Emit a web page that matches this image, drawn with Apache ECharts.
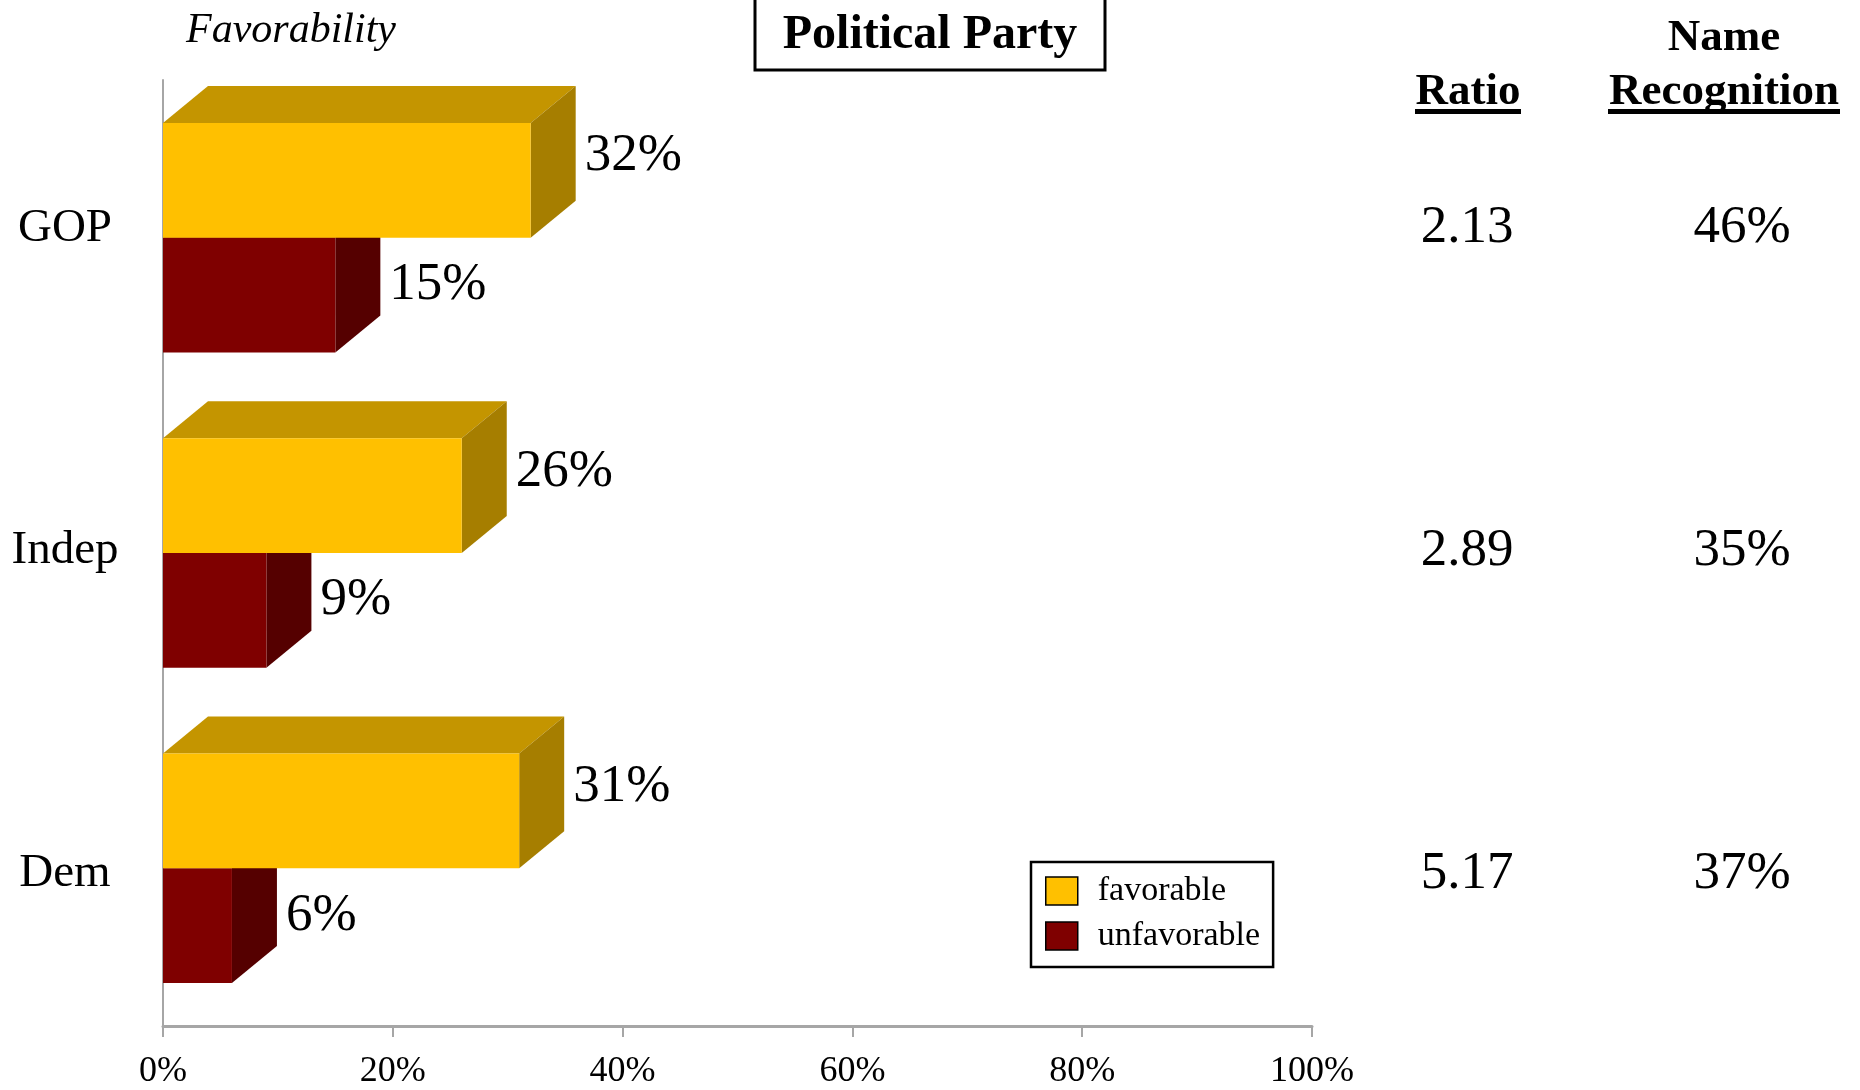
<!DOCTYPE html>
<html><head><meta charset="utf-8">
<script src="https://cdn.jsdelivr.net/npm/echarts@6/dist/echarts.min.js"></script>
<style>html,body{margin:0;padding:0;background:#fff}#c{width:1860px;height:1090px}</style>
</head><body><div id="c"></div>
<script>
// ---- data ----
const categories = ['GOP', 'Indep', 'Dem'];
const favorable = [32, 26, 31];
const unfavorable = [15, 9, 6];
const ratios = [2.13, 2.89, 5.17];
const nameRecognition = [46, 35, 37];
const seriesNames = ['favorable', 'unfavorable'];

// ---- styles ----
const FONT = 'Liberation Serif, Times New Roman, serif';
const STY = {
  fav:   { front: '#FFC000', top: '#C49500', side: '#A67E00', labelDy: -24 },
  unfav: { front: '#7F0000', top: '#5E0000', side: '#550000', labelDy: -10 }
};
const DX = 45, DY = 37;

function bar3D(kind) {
  const col = STY[kind];
  return function (params, api) {
    const v = api.value(0), c = api.value(1);
    const base = api.coord([0, c]);
    const end = api.coord([v, c]);
    const band = api.size([0, 1])[1];
    const h = band * 0.364;
    const y0 = kind === 'fav' ? base[1] - h : base[1];
    const y1 = y0 + h;
    const x0 = base[0], x1 = end[0];
    return {
      type: 'group',
      children: [
        { type: 'polygon', shape: { points: [[x0, y0], [x0 + DX, y0 - DY], [x1 + DX, y0 - DY], [x1, y0]] }, style: { fill: col.top } },
        { type: 'polygon', shape: { points: [[x1, y0], [x1 + DX, y0 - DY], [x1 + DX, y1 - DY], [x1, y1]] }, style: { fill: col.side } },
        { type: 'rect', shape: { x: x0, y: y0, width: x1 - x0, height: h }, style: { fill: col.front } },
        { type: 'text', style: { x: x1 + DX + 9, y: (y0 + y1) / 2 + col.labelDy, text: v + '%', fontSize: 53, fontFamily: FONT, fill: '#000', align: 'left', verticalAlign: 'middle' } }
      ]
    };
  };
}

const tableTexts = [];
const tableData = [];
categories.forEach((c, i) => {
  tableData.push([0, i]); tableTexts.push(ratios[i].toFixed(2));
  tableData.push([1, i]); tableTexts.push(nameRecognition[i] + '%');
});

const chart = echarts.init(document.getElementById('c'), null, { renderer: 'canvas' });
chart.setOption({
  backgroundColor: '#fff',
  animation: false,
  textStyle: { fontFamily: FONT, color: '#000' },
  grid: [
    { left: 163, right: 548, top: 80, bottom: 60 },
    { left: 163, width: 10, top: 67, bottom: 55 },
    { left: 1467, width: 275, top: 67, bottom: 55 }
  ],
  xAxis: [
    {
      gridIndex: 0, type: 'value', min: 0, max: 100, interval: 20,
      axisLine: { show: true, lineStyle: { color: '#A6A6A6', width: 3 } },
      axisTick: { show: true, length: 11, lineStyle: { color: '#A6A6A6', width: 2 } },
      splitLine: { show: false },
      axisLabel: { formatter: '{value}%', fontSize: 36, fontFamily: FONT, color: '#000', margin: 28 }
    },
    { gridIndex: 1, type: 'value', min: 0, max: 1, show: false },
    { gridIndex: 2, type: 'value', min: 0, max: 1, show: false }
  ],
  yAxis: [
    {
      gridIndex: 0, type: 'category', data: categories, inverse: true,
      axisLine: { show: true, lineStyle: { color: '#A6A6A6', width: 2 } },
      axisTick: { show: false }, axisLabel: { show: false }, splitLine: { show: false }
    },
    {
      gridIndex: 1, type: 'category', data: categories, inverse: true,
      axisLine: { show: false }, axisTick: { show: false }, splitLine: { show: false },
      axisLabel: { show: true, align: 'center', margin: 98, fontSize: 47, fontFamily: FONT, color: '#000' }
    },
    { gridIndex: 2, type: 'category', data: categories, inverse: true, show: false }
  ],
  legend: {
    data: seriesNames,
    orient: 'vertical',
    left: 1031, top: 862,
    padding: [12, 13, 14, 14],
    itemWidth: 32, itemHeight: 28, itemGap: 11,
    icon: 'rect',
    selectedMode: false,
    borderColor: '#000', borderWidth: 2.5,
    backgroundColor: '#fff',
    itemStyle: { borderColor: '#000', borderWidth: 1.5 },
    textStyle: { fontSize: 34, fontFamily: FONT, color: '#000', lineHeight: 28, padding: [0, 0, 0, 15] }
  },
  series: [
    {
      name: 'favorable', type: 'custom', xAxisIndex: 0, yAxisIndex: 0, z: 3,
      itemStyle: { color: STY.fav.front },
      encode: { x: 0, y: 1 },
      data: favorable.map((v, i) => [v, i]),
      renderItem: bar3D('fav')
    },
    {
      name: 'unfavorable', type: 'custom', xAxisIndex: 0, yAxisIndex: 0, z: 2,
      itemStyle: { color: STY.unfav.front },
      encode: { x: 0, y: 1 },
      data: unfavorable.map((v, i) => [v, i]),
      renderItem: bar3D('unfav')
    },
    {
      name: 'table', type: 'custom', xAxisIndex: 2, yAxisIndex: 2, z: 2,
      encode: { x: 0, y: 1 },
      data: tableData,
      renderItem: function (params, api) {
        const p = api.coord([api.value(0), api.value(1)]);
        return { type: 'text', style: { x: p[0], y: p[1], text: tableTexts[params.dataIndex], fontSize: 53, fontFamily: FONT, fill: '#000', align: 'center', verticalAlign: 'middle' } };
      }
    }
  ],
  graphic: [
    { type: 'text', left: 186, top: 10, style: { text: 'Favorability', font: 'italic 42px ' + FONT, fill: '#000' } },
    { type: 'rect', shape: { x: 755, y: -6, width: 350, height: 76 }, style: { fill: 'none', stroke: '#000', lineWidth: 3 } },
    { type: 'text', style: { x: 930, y: 36, text: 'Political Party', font: 'bold 48px ' + FONT, fill: '#000', align: 'center', verticalAlign: 'middle' } },
    { type: 'text', style: { x: 1468, y: 92, text: 'Ratio', font: 'bold 45px ' + FONT, fill: '#000', align: 'center', verticalAlign: 'middle' } },
    { type: 'rect', shape: { x: 1415, y: 109, width: 106, height: 5 }, style: { fill: '#000' } },
    { type: 'text', style: { x: 1724, y: 38, text: 'Name', font: 'bold 45px ' + FONT, fill: '#000', align: 'center', verticalAlign: 'middle' } },
    { type: 'text', style: { x: 1724, y: 92, text: 'Recognition', font: 'bold 45px ' + FONT, fill: '#000', align: 'center', verticalAlign: 'middle' } },
    { type: 'rect', shape: { x: 1608, y: 109, width: 232, height: 5 }, style: { fill: '#000' } }
  ]
});
</script>
</body></html>
